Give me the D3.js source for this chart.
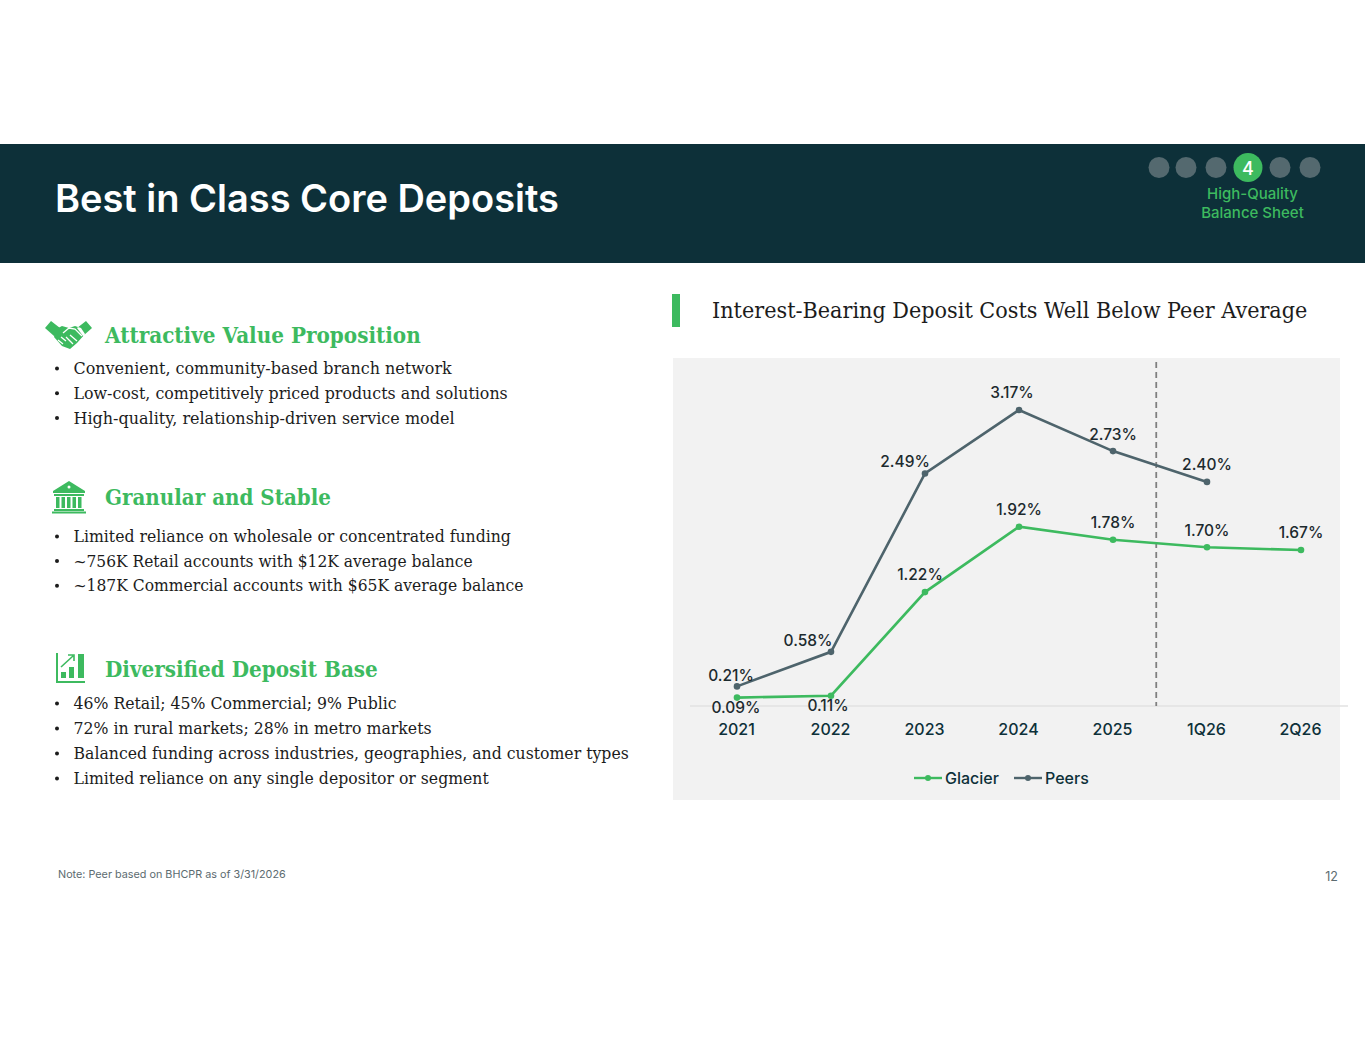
<!DOCTYPE html>
<html>
<head>
<meta charset="utf-8">
<script src="https://cdn.jsdelivr.net/npm/d3@7/dist/d3.min.js"></script>
<style>
  html, body { margin: 0; padding: 0; background: #fff; }
  svg { display: block; }
  .serif { font-family: "DejaVu Serif", serif; }
  .sans { font-family: Inter, "Open Sans", sans-serif; }
</style>
</head>
<body>
<div id="chart"></div>
<script>
// chart data
var categories = ["2021", "2022", "2023", "2024", "2025", "1Q26", "2Q26"];
var glacier = [0.09, 0.11, 1.22, 1.92, 1.78, 1.70, 1.67];
var peers = [0.21, 0.58, 2.49, 3.17, 2.73, 2.40, null];
var legendNames = ["Glacier", "Peers"];

// slide text
var title = "Best in Class Core Deposits";
var chartTitle = "Interest-Bearing Deposit Costs Well Below Peer Average";
var navSteps = [1, 2, 3, 4, 5, 6];
var note = "Note: Peer based on BHCPR as of 3/31/2026";
var sections = [
  { head: "Attractive Value Proposition", y: 335, w: 316, first: 368, gap: 24.8, lines: [
    "Convenient, community-based branch network",
    "Low-cost, competitively priced products and solutions",
    "High-quality, relationship-driven service model"], ends: [452, 508, 455] },
  { head: "Granular and Stable", y: 497, w: 226, first: 536, gap: 24.6, lines: [
    "Limited reliance on wholesale or concentrated funding",
    "~756K Retail accounts with $12K average balance",
    "~187K Commercial accounts with $65K average balance"], ends: [511, 473, 524] },
  { head: "Diversified Deposit Base", y: 669, w: 273, first: 703, gap: 25, lines: [
    "46% Retail; 45% Commercial; 9% Public",
    "72% in rural markets; 28% in metro markets",
    "Balanced funding across industries, geographies, and customer types",
    "Limited reliance on any single depositor or segment"], ends: [397, 432, 629, 489] }
];

var green = "#3dba5f";
var slate = "#4e646c";
var navy = "#0d3039";

var svg = d3.select("#chart").append("svg").attr("width", 1365).attr("height", 1055);

// DejaVu Serif runs wide, squeeze it horizontally around the text start
function fitTo(node, w) {
  var x = +node.getAttribute("x");
  var k = w / node.getComputedTextLength();
  node.setAttribute("transform", "translate(" + x + ",0) scale(" + k + ",1) translate(" + (-x) + ",0)");
}

// header band
svg.append("rect").attr("x", 0).attr("y", 144).attr("width", 1365).attr("height", 119).attr("fill", navy);
var titleText = svg.append("text").attr("class", "sans").attr("x", 55).attr("y", 212)
  .attr("font-size", 38).attr("font-weight", 600).attr("fill", "#fff").text(title);
fitTo(titleText.node(), 504);

// progress dots
var navX = [1159, 1186, 1216, 1248, 1280, 1310];
svg.selectAll("circle.nav").data(navSteps).enter().append("circle")
  .attr("class", "nav")
  .attr("cx", function(d, i) { return navX[i]; })
  .attr("cy", 167.5)
  .attr("r", function(d) { return d == 4 ? 14.5 : 10.5; })
  .attr("fill", function(d) { return d == 4 ? green : "#54696f"; });
svg.append("text").attr("class", "sans").attr("x", 1248).attr("y", 175).attr("text-anchor", "middle")
  .attr("font-size", 18).attr("font-weight", 500).attr("fill", "#fff").text("4");
svg.selectAll("text.navlabel").data(["High-Quality", "Balance Sheet"]).enter().append("text")
  .attr("class", "sans navlabel").attr("x", 1252.5)
  .attr("y", function(d, i) { return 199 + i * 19; })
  .attr("text-anchor", "middle").attr("font-size", 15).attr("font-weight", 500).attr("fill", green)
  .text(function(d) { return d; });

// left column
var left = svg.append("g");
sections.forEach(function(s) {
  var head = left.append("text").attr("class", "serif").attr("x", 105).attr("y", s.y + 8)
    .attr("font-size", 22).attr("font-weight", 700).attr("fill", green).text(s.head);
  fitTo(head.node(), s.w);
  s.lines.forEach(function(t, i) {
    var y = s.first + i * s.gap;
    left.append("circle").attr("cx", 57).attr("cy", y + 0.5).attr("r", 2).attr("fill", "#1c1c1c");
    var row = left.append("text").attr("class", "serif").attr("x", 73.5).attr("y", y + 6)
      .attr("font-size", 17).attr("fill", "#1c1c1c").text(t);
    fitTo(row.node(), s.ends[i] - 73.5);
  });
});

// icons
var icons = svg.append("g").attr("fill", green);
// handshake
icons.append("path").attr("d",
  "M45 328l6-7 9 7-6 8z M92 328l-6-7-9 7 6 8z " +
  "M56 329l6-3 7 2 6-2 6 2 4 6-8 9-7 6-8-3-8-9z");
icons.append("path").attr("fill", "none").attr("stroke", "#fff").attr("stroke-width", 1.3).attr("d",
  "M63 333l6-5 6 1 7 7 M61 337l5 4 M58 340l5 4 M66 337l7 7 M70 335l7 6");
// bank
icons.append("path").attr("d",
  "M69 481l16 10v2H53v-2z M54 494h30v2H54z " +
  "M56 497h3.5v11H56z M61.5 497h3.5v11h-3.5z M67 497h3.5v11H67z M72.5 497h3.5v11h-3.5z M78 497h3.5v11H78z " +
  "M54 509h30v2H54z M52 511.5h34v2H52z");
icons.append("circle").attr("cx", 69).attr("cy", 487).attr("r", 1.5).attr("fill", "#fff");
// bar chart icon
icons.append("path").attr("d",
  "M56 653h2v28h27v2H56z M61 672h5v6h-5z M69 667h5v11h-5z M78 654h6v24h-6z");
icons.append("path").attr("fill", "none").attr("stroke", green).attr("stroke-width", 1.6).attr("d",
  "M61 667l12-11 M68 655h6v6");

// note and page number
svg.append("text").attr("class", "sans").attr("x", 58).attr("y", 878).attr("font-size", 10.8).attr("fill", "#5c6b70").text(note);
svg.append("text").attr("class", "sans").attr("x", 1338).attr("y", 881).attr("text-anchor", "end").attr("font-size", 12.5).attr("fill", "#5c6b70").text("12");

// chart heading
svg.append("rect").attr("x", 672).attr("y", 294).attr("width", 8).attr("height", 33).attr("fill", green);
var headText = svg.append("text").attr("class", "serif").attr("x", 712).attr("y", 318).attr("font-size", 23).attr("fill", "#1c1c1c").text(chartTitle);
fitTo(headText.node(), 596);

// chart panel
svg.append("rect").attr("x", 673).attr("y", 358).attr("width", 667).attr("height", 442).attr("fill", "#f2f2f2");

var xScale = d3.scalePoint().domain(categories).range([737, 1301]);
var yScale = d3.scaleLinear().domain([0, 3.17]).range([706, 410]);

var xAxis = d3.axisBottom(xScale).tickSize(0).tickPadding(18);
var axisG = svg.append("g").attr("transform", "translate(-1," + yScale(0) + ")").call(xAxis);
axisG.select(".domain").remove();
axisG.selectAll("text").attr("font-size", 16).attr("font-weight", 450).attr("font-family", "Inter, sans-serif").attr("fill", navy);
svg.append("line").attr("x1", 690).attr("x2", 1348).attr("y1", yScale(0)).attr("y2", yScale(0))
  .attr("stroke", "#e2e2e2").attr("stroke-width", 1.5);

// dashed divider between actuals and estimates
var divX = xScale("2025") + xScale.step() * 0.46;
svg.append("line").attr("x1", divX).attr("x2", divX).attr("y1", 362).attr("y2", yScale(0))
  .attr("stroke", "#808080").attr("stroke-width", 1.8).attr("stroke-dasharray", "6,4");

var line = d3.line()
  .defined(function(d) { return d != null; })
  .x(function(d, i) { return xScale(categories[i]); })
  .y(function(d) { return yScale(d); });

// label nudges from the point, [dx, dy]
var glacierNudge = [[-1, 10], [-3, 10], [-5, -18], [0, -17], [0, -17], [0, -17], [0, -17]];
var peersNudge = [[-6, -11], [-23, -11], [-20, -12], [-7, -17], [0, -17], [0, -17], [0, 0]];

function drawSeries(values, color, nudge) {
  svg.append("path").datum(values).attr("d", line).attr("fill", "none").attr("stroke", color).attr("stroke-width", 2.6);
  var pts = svg.selectAll(null).data(values).enter().filter(function(d) { return d != null; });
  pts.append("circle")
    .attr("cx", function(d, i) { return xScale(categories[i]); })
    .attr("cy", function(d) { return yScale(d); })
    .attr("r", 3.3).attr("fill", color);
  pts.append("text").attr("class", "sans")
    .attr("x", function(d, i) { return xScale(categories[i]) + nudge[i][0]; })
    .attr("y", function(d, i) { return yScale(d) + nudge[i][1]; })
    .attr("dy", "0.35em")
    .attr("text-anchor", "middle").attr("font-size", 15.5).attr("font-weight", 450).attr("fill", "#1c2a2e")
    .text(function(d) { return d.toFixed(2) + "%"; });
}
drawSeries(glacier, green, glacierNudge);
drawSeries(peers, slate, peersNudge);

// legend
var legendX = [914, 1014];
var legendColors = [green, slate];
legendNames.forEach(function(name, i) {
  var g = svg.append("g").attr("transform", "translate(" + legendX[i] + ",778)");
  g.append("line").attr("x1", 0).attr("x2", 28).attr("stroke", legendColors[i]).attr("stroke-width", 2.4);
  g.append("circle").attr("cx", 14).attr("r", 3).attr("fill", legendColors[i]);
  g.append("text").attr("class", "sans").attr("x", 31).attr("y", 6).attr("font-size", 16).attr("font-weight", 450).attr("fill", navy).text(name);
});
</script>
</body>
</html>
